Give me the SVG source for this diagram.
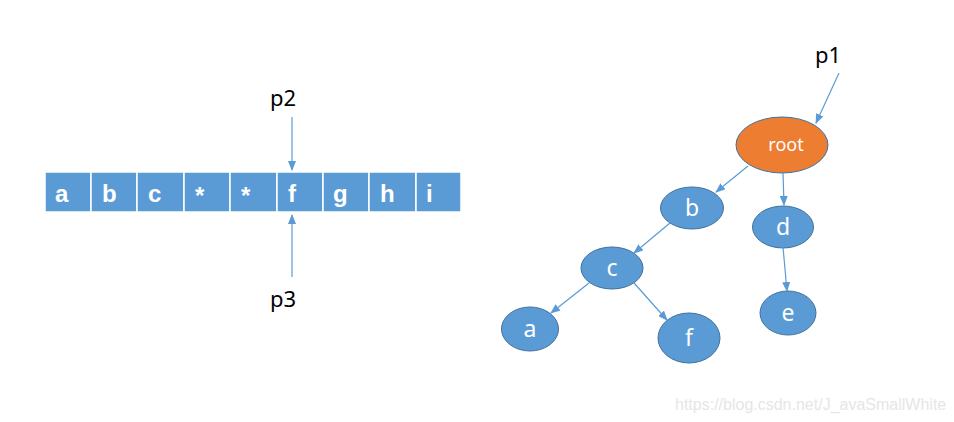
<svg xmlns="http://www.w3.org/2000/svg" width="954" height="422" viewBox="0 0 954 422">
<defs>
<style>
.cell{fill:#5B9BD5;stroke:#ffffff;stroke-width:1.5}
.ct{font-family:"Liberation Sans",Arial,sans-serif;font-weight:bold;font-size:24px;fill:#fff}
.lbl{font-family:"Noto Sans","DejaVu Sans",sans-serif;font-size:22px;fill:#000}
.node{fill:#5B9BD5;stroke:#41719C;stroke-width:1}
.root{fill:#ED7D31;stroke:#41719C;stroke-width:1}
.nt{font-family:"Noto Sans","DejaVu Sans",sans-serif;font-size:23px;fill:#fff;text-anchor:middle}
.edge{stroke:#5B9BD5;stroke-width:1.2;fill:none;marker-end:url(#ah)}
.wm{font-family:"Liberation Sans",Arial,sans-serif;font-size:16px;fill:#e6e6e6}
</style>
<marker id="ah" markerWidth="10" markerHeight="8" refX="9" refY="4" orient="auto" markerUnits="userSpaceOnUse">
<path d="M0,0 L10,4 L0,8 Z" fill="#5B9BD5"/>
</marker>
</defs>
<rect width="954" height="422" fill="#ffffff"/>
<g id="array">
<rect class="cell" x="45" y="172" width="46" height="40"/>
<rect class="cell" x="91" y="172" width="46" height="40"/>
<rect class="cell" x="137" y="172" width="47" height="40"/>
<rect class="cell" x="184" y="172" width="46" height="40"/>
<rect class="cell" x="230" y="172" width="47" height="40"/>
<rect class="cell" x="277" y="172" width="46" height="40"/>
<rect class="cell" x="323" y="172" width="46" height="40"/>
<rect class="cell" x="369" y="172" width="47" height="40"/>
<rect class="cell" x="416" y="172" width="45" height="40"/>
<text class="ct" x="55" y="202">a</text>
<text class="ct" x="102" y="202">b</text>
<text class="ct" x="148" y="202">c</text>
<text class="ct" x="195" y="204">*</text>
<text class="ct" x="241" y="204">*</text>
<text class="ct" x="288" y="202">f</text>
<text class="ct" x="333" y="202">g</text>
<text class="ct" x="380" y="202">h</text>
<text class="ct" x="426" y="202">i</text>
</g>
<g id="p2"><text class="lbl" x="270" y="106">p2</text></g>
<g id="p3"><text class="lbl" x="270" y="307">p3</text></g>
<g id="p1"><text class="lbl" x="815" y="63">p1</text></g>
<g id="node-root"><ellipse class="root" cx="782" cy="145" rx="46" ry="28"/><text class="nt" x="786" y="151" style="font-size:18px">root</text></g>
<g id="node-b"><ellipse class="node" cx="692" cy="208" rx="31.5" ry="21"/><text class="nt" x="692" y="216">b</text></g>
<g id="node-d"><ellipse class="node" cx="783" cy="227" rx="30.5" ry="21"/><text class="nt" x="783" y="235">d</text></g>
<g id="node-c"><ellipse class="node" cx="612" cy="268" rx="31" ry="21"/><text class="nt" x="612" y="276">c</text></g>
<g id="node-a"><ellipse class="node" cx="530" cy="329" rx="28.5" ry="22"/><text class="nt" x="530" y="337">a</text></g>
<g id="node-f"><ellipse class="node" cx="689" cy="338" rx="31" ry="25"/><text class="nt" x="689" y="346">f</text></g>
<g id="node-e"><ellipse class="node" cx="788" cy="313" rx="28" ry="22"/><text class="nt" x="788" y="321">e</text></g>
<g id="connectors">
<line class="edge" x1="292" y1="117" x2="292" y2="170"/>
<line class="edge" x1="292" y1="277" x2="292" y2="215"/>
<line class="edge" x1="839" y1="73" x2="816" y2="123"/>
<line class="edge" x1="748" y1="166" x2="716" y2="192"/>
<line class="edge" x1="783" y1="173" x2="784" y2="205"/>
<line class="edge" x1="670" y1="223" x2="634" y2="253"/>
<line class="edge" x1="589" y1="283" x2="551" y2="313"/>
<line class="edge" x1="634" y1="283" x2="667" y2="320"/>
<line class="edge" x1="783" y1="247" x2="787" y2="291"/>
</g>
<text class="wm" x="675" y="410">https://blog.csdn.net/J_avaSmallWhite</text>
</svg>
